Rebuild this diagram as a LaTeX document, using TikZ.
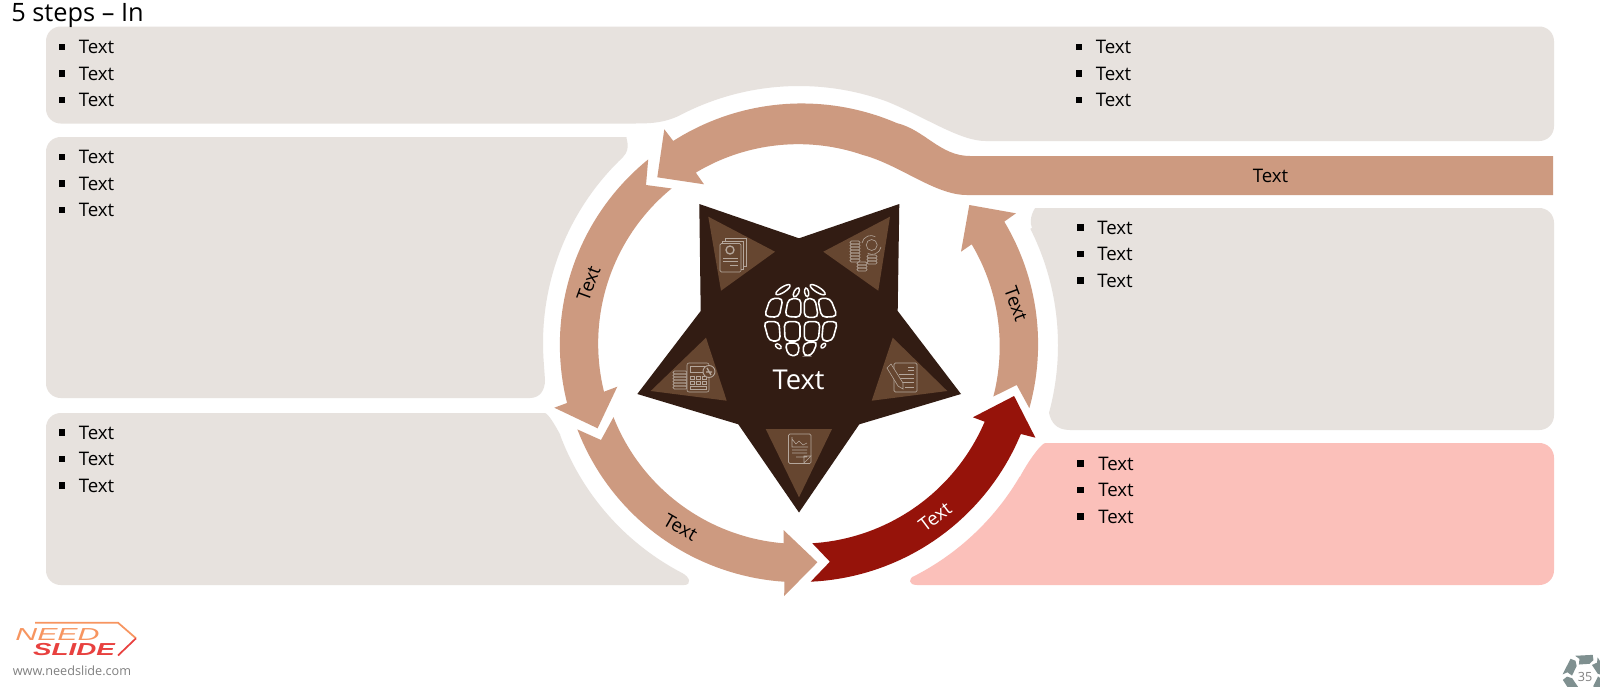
\documentclass[tikz,border=0pt]{standalone}
\usepackage{fontspec}
\setmainfont{Open Sans}
\newfontfamily\logofont{Liberation Sans}
\definecolor{panelgray}{HTML}{E7E2DE}
\definecolor{panelpink}{HTML}{FBC0BA}
\definecolor{salmon}{HTML}{CD9A80}
\definecolor{darkred}{HTML}{96130A}
\definecolor{starbrown}{HTML}{321C13}
\definecolor{tribrown}{HTML}{664630}
\definecolor{iconline}{HTML}{B5A79C}
\definecolor{gearteal}{HTML}{7F9090}
\definecolor{logoorange}{HTML}{F79560}
\definecolor{logored}{HTML}{E8413F}
% arc round the star centre: start angle, start radius, end angle, end radius
\newcommand{\ringpath}[4]{--plot[domain=#1:#3,samples=40]({799+(#2+(#4-#2)*(\x-#1)/(#3-#1))*cos(\x)},{343+(#2+(#4-#2)*(\x-#1)/(#3-#1))*sin(\x)})}
\newcommand{\ringstart}[2]{({799+#2*cos(#1)},{343+#2*sin(#1)})}
\tikzset{
    listtext/.style={anchor=west,inner sep=0pt,font=\fontsize{14}{16}\selectfont},
    listbullet/.style={fill=black,inner sep=0pt,minimum size=4.8pt},
    ringtext/.style={inner sep=0pt,font=\fontsize{14}{16}\selectfont},
    panelfill/.style={fill=panelgray},
    panelround/.style={rounded corners=11pt},
    iconstroke/.style={draw=iconline,line width=0.45pt},
}
\newcommand{\listrows}[4]{
    \foreach \i in {0,1,2}{
        \node[listbullet] (bullet#4\i) at (#1,#3+26.5*\i) {};
        \node[listtext] (item#4\i) at (#2,#3+26.5*\i) {Text};
    }
}
\begin{document}
\begin{tikzpicture}[x=0.75pt,y=-0.75pt]
    \useasboundingbox (0,0) rectangle (1600,686);
    \fill[white] (0,0) rectangle (1600,686);
    % panels
    \fill[panelfill] (300,123.5)[panelround]--(46,123.5)--(46,26.5)--(1554,26.5)--(1554,141)--(1000,141)[sharp corners] .. controls (960,141) and (925,117) .. (886.9,101.5)\ringpath{290}{257}{242}{257} .. controls (665,122) and (655,123.5) .. (635,123.5)--cycle;
    \fill[panelfill] (46,250)[panelround]--(46,137)--(612,137)[sharp corners] .. controls (625,137) and (632,148) .. (623,157)\ringpath{226.6}{256}{176.5}{256}--(545,380) .. controls (545,390) and (540,398) .. (530,398)[panelround]--(46,398)--cycle;
    \fill[panelfill] (46,500)[panelround]--(46,413)--(530,413)[sharp corners] .. controls (548,413) and (555,425) .. (560.4,435)\ringpath{158.9}{256}{116.9}{258} .. controls (690,577) and (692,585) .. (684,585)[panelround]--(46,585)--cycle;
    \fill[panelfill] (1554,300)[panelround]--(1554,208)--(1050,208)[sharp corners] .. controls (1035,208) and (1028,218) .. (1032,228)\ringpath{-26.3}{258}{15.6}{259.6} .. controls (1051,422) and (1056,430) .. (1070,430)[panelround]--(1554,430)--cycle;
    \fill[fill=panelpink] (1554,500)[panelround]--(1554,443)--(1060,443)[sharp corners] .. controls (1042,443) and (1030,458) .. (1020,476.7)\ringpath{31.2}{258}{63.5}{260} .. controls (908,578) and (908,585) .. (917,585)[panelround]--(1554,585)--cycle;
    % ring of arrows
    \fill[salmon] \ringstart{238.1}{238}\ringpath{238.1}{238}{294}{240.7} .. controls (925,130) and (940,156) .. (970,156)--(1553,156)--(1553,195)--(966.7,195) .. controls (935,195) and (900,165) .. (863,155)\ringpath{288.8}{198.6}{238.8}{199.2}--(704,184.3)--(657.3,177.3)--(664.3,129.3)--cycle;
    \fill[salmon] \ringstart{230.6}{237.6}\ringpath{230.6}{237.6}{165.5}{239.6}--(554.3,407.7)--(597.6,428.3)--(617.3,386.7)--(604,391.7)\ringpath{166}{201}{230.5}{200.3}--(646,185)--cycle;
    \fill[salmon] \ringstart{158.7}{237.9}\ringpath{158.7}{237.9}{93.5}{239.2}--(784.2,596)--(817.4,562.3)--(783.5,530)--(783.5,543.3)\ringpath{94.4}{200.9}{158.2}{199.8}--(601,440)--cycle;
    \fill[darkred] \ringstart{87.2}{239}\ringpath{87.2}{239}{22.3}{239.8}--(1035.4,437.7)--(1014.1,396)--(972.9,417.3)--(984.7,421.7)\ringpath{23}{201.7}{86.2}{200.7}--(829.9,561.7)--cycle;
    \fill[salmon] \ringstart{15.8}{239.4}\ringpath{15.8}{239.4}{-30.6}{238.5}--(1016,213.3)--(969.3,205)--(961,251.7)--(971.7,244.3)\ringpath{-29.7}{198.9}{15.4}{201.6}--(1016.7,385)--cycle;
    % star
    \fill[starbrown] (799,238.3)--(899.3,204)--(897.7,311)--(961,394)--(859.3,424.3)--(799,512.5)--(738.3,424.3)--(637.3,394)--(700.7,311)--(699.3,204)--cycle;
    \fill[tribrown] (708.3,216.7)--(775,251.7)--(721,290.7)--cycle;
    \fill[tribrown] (890,216.7)--(823.3,251.7)--(878.3,290.7)--cycle;
    \fill[tribrown] (706,337.7)--(650.7,391)--(726.7,400.7)--cycle;
    \fill[tribrown] (892.7,337.7)--(947.3,391)--(871.7,400.7)--cycle;
    \fill[tribrown] (765.7,429)--(832,429)--(799,497.3)--cycle;
    % globe
    \begin{scope}[shift={(755,275)},x=0.25pt,y=-0.25pt]
        \foreach \ax/\ay/\bx/\by/\cx/\cy/\dx/\dy in {
            28/124/46/70/84/70/72/127,90/124/100/71/138/71/137/127,148/127/148/71/180/71/190/127,200/127/188/70/226/70/247/124,
            26/140/72/140/76/198/42/198,88/140/135/140/135/198/90/198,148/140/195/140/190/198/148/198,205/140/248/140/232/198/200/198,
            90/204/132/204/130/242/100/242,145/204/188/200/170/242/145/242}{
            \draw[white,line width=1.2pt,rounded corners=3.4pt] (\ax,\ay)--(\bx,\by)--(\cx,\cy)--(\dx,\dy)--cycle;
        }
        \draw[white,line width=1.1pt,rotate around={33:(84,44)}] (84,44) ellipse (25 and 8);
        \draw[white,line width=1.1pt,rotate around={62:(124,52)}] (124,52) ellipse (15 and 7);
        \draw[white,line width=1.1pt,rotate around={100:(155,52)}] (155,52) ellipse (13 and 6);
        \draw[white,line width=1.1pt,rotate around={-32:(188,44)}] (188,44) ellipse (26 and 8);
        \draw[white,line width=1pt,rotate around={-35:(70,214)}] (70,214) ellipse (10 and 6);
        \draw[white,line width=1pt,rotate around={45:(205,212)}] (205,212) ellipse (9 and 5);
    \end{scope}
    % small icons
    \draw[iconstroke,rounded corners=1pt] (720,243.5) rectangle (741,272);
    \draw[iconstroke] (722,243.5)--(722,241)--(743.5,241)--(743.5,269)--(741,269) (725,241)--(725,238.5)--(746,238.5)--(746,266.5)--(743.5,266.5);
    \draw[iconstroke,line width=1pt] (730,250) circle (4);
    \draw[iconstroke] (723,258)--(738,258) (723,261)--(738,261) (730,265)--(738,265);
    \foreach \y in {241,244,...,259}{\draw[iconstroke,rounded corners=1pt] (850,\y) rectangle (860,\y+3);}
    \foreach \y in {262,265,268}{\draw[iconstroke,rounded corners=1pt] (857,\y) rectangle (867,\y+3);}
    \foreach \y in {255,258,261}{\draw[iconstroke,rounded corners=1pt] (867,\y) rectangle (877,\y+3);}
    \draw[iconstroke] (871.7,245) circle (5.5);
    \draw[iconstroke] (862,243) arc[start angle=-170,end angle=-60,radius=9] (881,247) arc[start angle=10,end angle=120,radius=9];
    \foreach \y in {371,374,...,386}{\draw[iconstroke,rounded corners=1pt] (673,\y) rectangle (687,\y+3);}
    \draw[iconstroke,fill=tribrown,rounded corners=1.5pt] (687,363) rectangle (709,392);
    \draw[iconstroke] (690,366) rectangle (705,372.5);
    \foreach \x in {690,696,702}{\foreach \y in {376,381}{\draw[iconstroke] (\x,\y) rectangle (\x+4.5,\y+3);}}
    \draw[iconstroke] (690,386) rectangle (706.5,389);
    \draw[iconstroke,fill=tribrown,line width=0.7pt] (709,371.5) circle (6);
    \draw[iconstroke,line width=1pt] (707,368)--(711,375) (706,372)--(712,372);
    \draw[iconstroke,rounded corners=1pt] (894,363) rectangle (917,392);
    \draw[iconstroke] (908,367)--(914,367) (908,370)--(914,370) (899,374)--(914,374) (899,378)--(914,378) (899,382)--(914,382) (905,387)--(914,387);
    \draw[iconstroke,fill=tribrown] (887,368)--(891,364)--(903,383)--(903,389)--(898,386)--cycle;
    \draw[iconstroke,rounded corners=1pt] (788.5,434) rectangle (811,463.5);
    \draw[iconstroke] (792,437)--(792,447)--(808,447) (792,439)--(796,444)--(799,441)--(803,445)--(807,443);
    \draw[iconstroke] (792,450)--(807,450) (792,453)--(807,453) (796,457)--(807,457) (804,463)--(811,456)--(804,456)--cycle;
    % labels
    \node[ringtext,anchor=west] (titletext) at (11,15) {\fontsize{19}{21}\selectfont 5 steps -- In};
    \listrows{62}{78.5}{47}{a}
    \listrows{1079}{1095.5}{47}{b}
    \listrows{62}{78.5}{157}{c}
    \listrows{62}{78.5}{432.5}{d}
    \listrows{1080.5}{1097}{227.5}{e}
    \listrows{1080.5}{1098}{463.5}{f}
    \node[ringtext] (bartext) at (1270.5,175.5) {Text};
    \node[ringtext,rotate=70] (lefttext) at (588.5,283.5) {Text};
    \node[ringtext,rotate=-70] (righttext) at (1016,304) {Text};
    \node[ringtext,rotate=-30] (bottomtext) at (680.5,527.5) {Text};
    \node[ringtext,rotate=37,text=white] (redtext) at (935,517) {Text};
    \node[ringtext,text=white,font=\fontsize{20.5}{23}\selectfont] (startext) at (798.5,380) {Text};
    % logo
    \draw[logoorange,line width=1.3pt] (35,622.7)--(118,622.7)--(136,638.3);
    \draw[logored,line width=1.3pt] (136,638.3)--(118,655.5);
    \node[inner sep=0pt,text=logoorange,xscale=1.75,font=\logofont\itshape\fontsize{13}{15}\selectfont] (logoneed) at (57.5,635) {NEED};
    \node[inner sep=0pt,text=logored,xscale=1.6,font=\logofont\itshape\bfseries\fontsize{13}{15}\selectfont] (logoslide) at (74,650) {SLIDE};
    \node[inner sep=0pt,text=gray,font=\fontsize{9.5}{11}\selectfont] (logourl) at (72,671) {www.needslide.com};
    % page mark
    \begin{scope}[shift={(1585,676)}]
        \foreach \a in {0,60,...,300}{
            \fill[gearteal] ({\a+2}:13)--({\a+50}:13)--({\a+58}:18)--({\a+50}:22.5)--({\a+4}:22.5)--({\a+12}:18)--cycle;
        }
    \end{scope}
    \node[inner sep=0pt,text=gray,font=\fontsize{9.5}{11}\selectfont] (pagenum) at (1585,676.5) {35};
\end{tikzpicture}
\end{document}
